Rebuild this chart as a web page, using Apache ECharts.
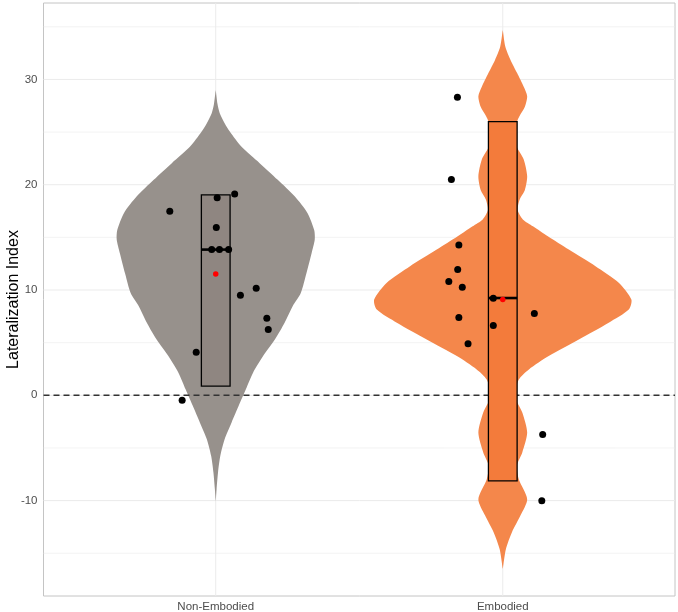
<!DOCTYPE html>
<html>
<head>
<meta charset="utf-8">
<script src="https://cdn.jsdelivr.net/npm/echarts@6/dist/echarts.min.js"></script>
<style>
  html, body { margin: 0; padding: 0; background: #fff; }
  #chart { width: 678px; height: 612px; }
</style>
</head>
<body>
<div id="chart"></div>
<script>
// groups
var groupNames = ['Non-Embodied', 'Embodied'];
var groupColors = ['#97918c', '#f4874b'];
var boxColors = ['#8f8681', '#f37b3b'];

// violin outlines: y values and half-widths (x units)
var neViolinY = [29.0, 27.7, 26.8, 25.85, 25.05, 23.6, 22.05, 20.47, 18.9, 17.3, 15.7, 14.8, 13.5, 11.6, 9.7, 8.47, 6.9, 5.3, 3.73, 2.15, 0.57, -1.0, -2.6, -4.17, -5.75, -7.33, -8.9, -10.1];
var neViolinW = [0, 0.006, 0.014, 0.031, 0.049, 0.090, 0.153, 0.216, 0.275, 0.320, 0.343, 0.345, 0.334, 0.316, 0.296, 0.268, 0.240, 0.206, 0.165, 0.130, 0.105, 0.080, 0.055, 0.031, 0.016, 0.008, 0.003, 0];
var emViolinY = [34.7, 33.1, 31.85, 30.6, 29.3, 28.4, 27.4, 26.5, 26.0, 24.9, 23.6, 22.4, 20.8, 19.5, 18.6, 17.6, 16.7, 16.05, 15.1, 13.84, 12.26, 10.7, 9.1, 8.15, 6.9, 5.3, 3.73, 2.46, 1.5, -0.06, -1.64, -3.54, -5.43, -6.7, -8.0, -9.86, -11.4, -13.0, -14.6, -16.5];
var emViolinW = [0, 0.009, 0.027, 0.050, 0.073, 0.085, 0.077, 0.058, 0.050, 0.045, 0.049, 0.073, 0.085, 0.077, 0.059, 0.052, 0.070, 0.105, 0.157, 0.230, 0.323, 0.404, 0.448, 0.439, 0.369, 0.265, 0.160, 0.091, 0.056, 0.042, 0.068, 0.085, 0.068, 0.049, 0.056, 0.085, 0.062, 0.032, 0.011, 0];

// box ranges, medians, means
var boxLow = [0.88, -8.12];
var boxHigh = [19.03, 26.0];
var medians = [13.84, 9.24];
var means = [11.53, 9.1];

// individual points: jitter offset from group centre, value
var neJitter = [-0.160, 0.005, 0.066, 0.002, -0.014, 0.013, 0.045, 0.141, 0.086, 0.178, 0.183, -0.068, -0.117];
var neValues = [17.47, 18.77, 19.12, 15.95, 13.84, 13.84, 13.84, 10.17, 9.5, 7.33, 6.26, 4.08, -0.47];
var emJitter = [-0.158, -0.179, -0.153, -0.157, -0.188, -0.141, -0.033, -0.153, 0.110, -0.033, -0.121, 0.139, 0.136];
var emValues = [28.31, 20.5, 14.28, 11.94, 10.8, 10.27, 9.22, 7.39, 7.77, 6.64, 4.9, -3.73, -10.02];

// axis ticks and grid
var yTicks = [-10, 0, 10, 20, 30];
var yMinor = [-15, -5, 5, 15, 25, 35];
var xTicks = [1, 2];

var violins = [[neViolinY, neViolinW], [emViolinY, emViolinW]];
var xMin = 0.4, xMax = 2.6, yMin = -19.06, yMax = 37.26;
var boxHalf = 0.05;

var chart = echarts.init(document.getElementById('chart'));

var pointData = [];
neValues.forEach(function(v, i) { pointData.push([1 + neJitter[i], v]); });
emValues.forEach(function(v, i) { pointData.push([2 + emJitter[i], v]); });

var gridLines = [];
yMinor.forEach(function(v) { gridLines.push(['h', v, 0.6]); });
yTicks.forEach(function(v) { gridLines.push(['h', v, 1]); });
xTicks.forEach(function(v) { gridLines.push(['v', v, 1]); });

var option = {
  animation: false,
  textStyle: { fontFamily: 'Liberation Sans, Arial, sans-serif' },
  grid: {
    left: 43.5, right: 3, top: 3, bottom: 16,
    containLabel: false,
    outerBoundsMode: 'none',
    show: true, borderColor: '#c4c4c4', borderWidth: 1
  },
  xAxis: {
    type: 'value', min: xMin, max: xMax,
    axisLine: { show: false },
    axisTick: { show: false },
    splitLine: { show: false },
    axisLabel: {
      customValues: xTicks,
      margin: 5,
      fontSize: 11.5,
      color: '#4d4d4d',
      formatter: function(v) { return groupNames[Math.round(v) - 1] || ''; }
    }
  },
  yAxis: {
    type: 'value', min: yMin, max: yMax,
    name: 'Lateralization Index',
    nameLocation: 'middle',
    nameGap: 22,
    nameMoveOverlap: false,
    nameTextStyle: { fontSize: 16, color: '#000' },
    axisLine: { show: false },
    axisTick: { show: false },
    splitLine: { show: false },
    axisLabel: {
      customValues: yTicks,
      margin: 6,
      fontSize: 11.5,
      color: '#4d4d4d'
    }
  },
  series: [
    {
      type: 'custom', name: 'grid', silent: true, z: 1,
      data: gridLines.map(function(g) { return [g[1], g[1]]; }),
      renderItem: function(params, api) {
        var g = gridLines[params.dataIndex];
        var a, b;
        if (g[0] === 'h') { a = api.coord([xMin, g[1]]); b = api.coord([xMax, g[1]]); }
        else { a = api.coord([g[1], yMin]); b = api.coord([g[1], yMax]); }
        return {
          type: 'line',
          shape: { x1: a[0], y1: a[1], x2: b[0], y2: b[1] },
          style: { stroke: '#ebebeb', lineWidth: g[2] }
        };
      }
    },
    {
      type: 'custom', name: 'violin', silent: true, z: 2,
      data: [[1, 0], [2, 0]],
      renderItem: function(params, api) {
        var i = params.dataIndex;
        var ys = violins[i][0], ws = violins[i][1];
        var c = i + 1;
        var pts = [];
        for (var k = 0; k < ys.length; k++) pts.push(api.coord([c + ws[k], ys[k]]));
        for (var k = ys.length - 1; k >= 0; k--) pts.push(api.coord([c - ws[k], ys[k]]));
        return {
          type: 'polygon',
          shape: { points: pts, smooth: 0.25 },
          style: { fill: groupColors[i] }
        };
      }
    },
    {
      type: 'custom', name: 'zero', silent: true, z: 3,
      data: [[1, 0]],
      renderItem: function(params, api) {
        var a = api.coord([xMin, 0]), b = api.coord([xMax, 0]);
        return {
          type: 'line',
          shape: { x1: a[0], y1: a[1], x2: b[0], y2: b[1] },
          style: { stroke: '#333333', lineWidth: 1.5, lineDash: [6, 4] }
        };
      }
    },
    {
      type: 'custom', name: 'box', silent: true, z: 4,
      data: [[1, medians[0]], [2, medians[1]]],
      renderItem: function(params, api) {
        var i = params.dataIndex;
        var c = i + 1;
        var tl = api.coord([c - boxHalf, boxHigh[i]]);
        var br = api.coord([c + boxHalf, boxLow[i]]);
        var ml = api.coord([c - boxHalf, medians[i]]);
        var mr = api.coord([c + boxHalf, medians[i]]);
        return {
          type: 'group',
          children: [
            {
              type: 'rect',
              shape: { x: tl[0], y: tl[1], width: br[0] - tl[0], height: br[1] - tl[1] },
              style: { fill: boxColors[i], stroke: '#000', lineWidth: 1.3 }
            },
            {
              type: 'line',
              shape: { x1: ml[0], y1: ml[1], x2: mr[0], y2: mr[1] },
              style: { stroke: '#000', lineWidth: 2.6 }
            }
          ]
        };
      }
    },
    {
      type: 'scatter', name: 'points', silent: true, z: 5,
      symbol: 'circle', symbolSize: 7,
      itemStyle: { color: '#000', opacity: 1 },
      data: pointData
    },
    {
      type: 'scatter', name: 'mean', silent: true, z: 6,
      symbol: 'circle', symbolSize: 5.5,
      itemStyle: { color: '#ff0000', opacity: 1 },
      data: [[1, means[0]], [2, means[1]]]
    }
  ]
};

chart.setOption(option);
</script>
</body>
</html>
